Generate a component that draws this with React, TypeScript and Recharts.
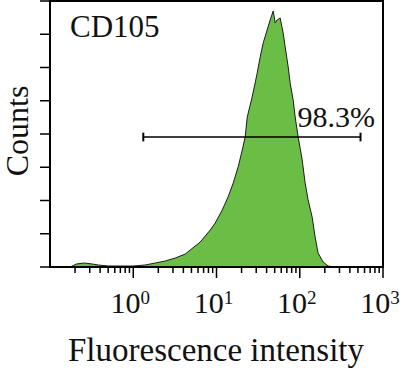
import { Area, AreaChart, XAxis, YAxis, ReferenceLine, ReferenceArea } from 'recharts'

// fluorescence intensity (linear units, plotted on log axis) and event counts
const intensity = [
  0.1, 0.175, 0.207, 0.258, 0.322, 0.38, 0.5, 0.7, 1.0, 1.39, 1.84, 2.42, 3.19, 4.21, 4.83,
  6.37, 8.4, 9.64, 11.7, 13.8, 15.9, 18.2, 20.4, 22.1, 23.4, 26.8, 30.8, 33.5, 36.4, 40.6,
  44.1, 48.0, 50.7, 53.5, 58.2, 63.2, 66.8, 72.6, 76.7, 83.4, 88.1, 95.7, 107, 116, 126,
  141, 153, 166, 191, 219, 266, 1000,
]
const counts = [
  0, 0, 0.09, 0.12, 0.09, 0.06, 0.03, 0.03, 0.03, 0.06, 0.12, 0.18, 0.27, 0.39, 0.51,
  0.75, 1.11, 1.32, 1.71, 2.11, 2.53, 3.01, 3.52, 3.91, 4.51, 5.11, 5.83, 6.32, 6.74, 7.13,
  7.43, 7.7, 7.34, 7.43, 7.49, 7.04, 6.62, 6.02, 5.53, 5.02, 4.51, 3.91, 3.22, 2.53, 2.02,
  1.5, 0.9, 0.42, 0.15, 0.03, 0, 0,
]

const xMajorTicks = [1, 10, 100, 1000]
const xMinorTicks = [
  0.2, 0.3, 0.4, 0.5, 0.6, 0.7, 0.8, 0.9,
  2, 3, 4, 5, 6, 7, 8, 9,
  20, 30, 40, 50, 60, 70, 80, 90,
  200, 300, 400, 500, 600, 700, 800, 900,
]
const yTicks = [0, 1, 2, 3, 4, 5, 6, 7, 8]

// gate marker
const gateStart = 1.32
const gateEnd = 537
const gateLevel = 3.91
const gateCap = 0.13
const gateLabel = '98.3%'

const data = intensity.map((v, i) => ({ intensity: v, count: counts[i] }))

const FONT = '"Liberation Serif", "Times New Roman", serif'

const XTick = (props: any) => {
  const { x, y, payload } = props
  const v = payload.value
  const exp = Math.round(Math.log10(v))
  const major = Math.abs(Math.log10(v) - exp) < 1e-6
  return (
    <g>
      <line x1={x} x2={x} y1={y} y2={y + (major ? 11 : 6)} stroke='#000' strokeWidth={1.5} />
      {major && (
        <text x={x - 3} y={y + 46} textAnchor='middle' fontFamily={FONT} fontSize={30} fill='#111'>
          <tspan>10</tspan>
          <tspan dy={-9} fontSize={19}>{exp}</tspan>
        </text>
      )}
    </g>
  )
}

const GateLabel = (props: any) => {
  const { viewBox } = props
  if (!viewBox) return null
  return (
    <text x={viewBox.x + viewBox.width - 63} y={viewBox.y - 10} fontFamily={FONT} fontSize={30} fill='#111'>
      {gateLabel}
    </text>
  )
}

export default function App() {
  return (
    <div style={{ position: 'fixed', left: 0, top: 0, width: 404, height: 374, background: '#fff' }}>
      <AreaChart width={404} height={374} data={data} margin={{ top: 1, right: 21, bottom: 0, left: 0 }}>
        <XAxis
          dataKey='intensity'
          type='number'
          scale='log'
          domain={[0.1, 1000]}
          ticks={[...xMinorTicks, ...xMajorTicks]}
          allowDataOverflow
          height={107}
          tickSize={0}
          tickMargin={0}
          tickLine={false}
          interval={0}
          axisLine={{ stroke: '#000', strokeWidth: 2 }}
          tick={<XTick />}
        />
        <YAxis
          type='number'
          domain={[0, 8]}
          ticks={yTicks}
          width={50}
          tickSize={10}
          tickLine={{ stroke: '#000', strokeWidth: 1.5 }}
          axisLine={{ stroke: '#000', strokeWidth: 2 }}
          tick={() => <g />}
          interval={0}
        />
        <Area
          type='linear'
          dataKey='count'
          stroke='#1c1c1c'
          strokeWidth={1}
          fill='#6abd45'
          fillOpacity={1}
          isAnimationActive={false}
        />
        <ReferenceArea x1={0.1} x2={1000} y1={0} y2={8} fill='none' stroke='#000' strokeWidth={2} />
        <ReferenceLine
          segment={[{ x: gateStart, y: gateLevel }, { x: gateEnd, y: gateLevel }]}
          stroke='#000'
          strokeWidth={1.5}
          label={<GateLabel />}
        />
        <ReferenceLine
          segment={[{ x: gateStart, y: gateLevel - gateCap }, { x: gateStart, y: gateLevel + gateCap }]}
          stroke='#000'
          strokeWidth={2}
        />
        <ReferenceLine
          segment={[{ x: gateEnd, y: gateLevel - gateCap }, { x: gateEnd, y: gateLevel + gateCap }]}
          stroke='#000'
          strokeWidth={2}
        />
        <text x={70} y={37} fontFamily={FONT} fontSize={31} fill='#111'>CD105</text>
        <text x={28} y={131} transform='rotate(-90 28 131)' textAnchor='middle' fontFamily={FONT} fontSize={32} fill='#111'>
          Counts
        </text>
        <text x={216} y={361} textAnchor='middle' fontFamily={FONT} fontSize={33} fill='#111'>
          Fluorescence intensity
        </text>
      </AreaChart>
    </div>
  )
}
